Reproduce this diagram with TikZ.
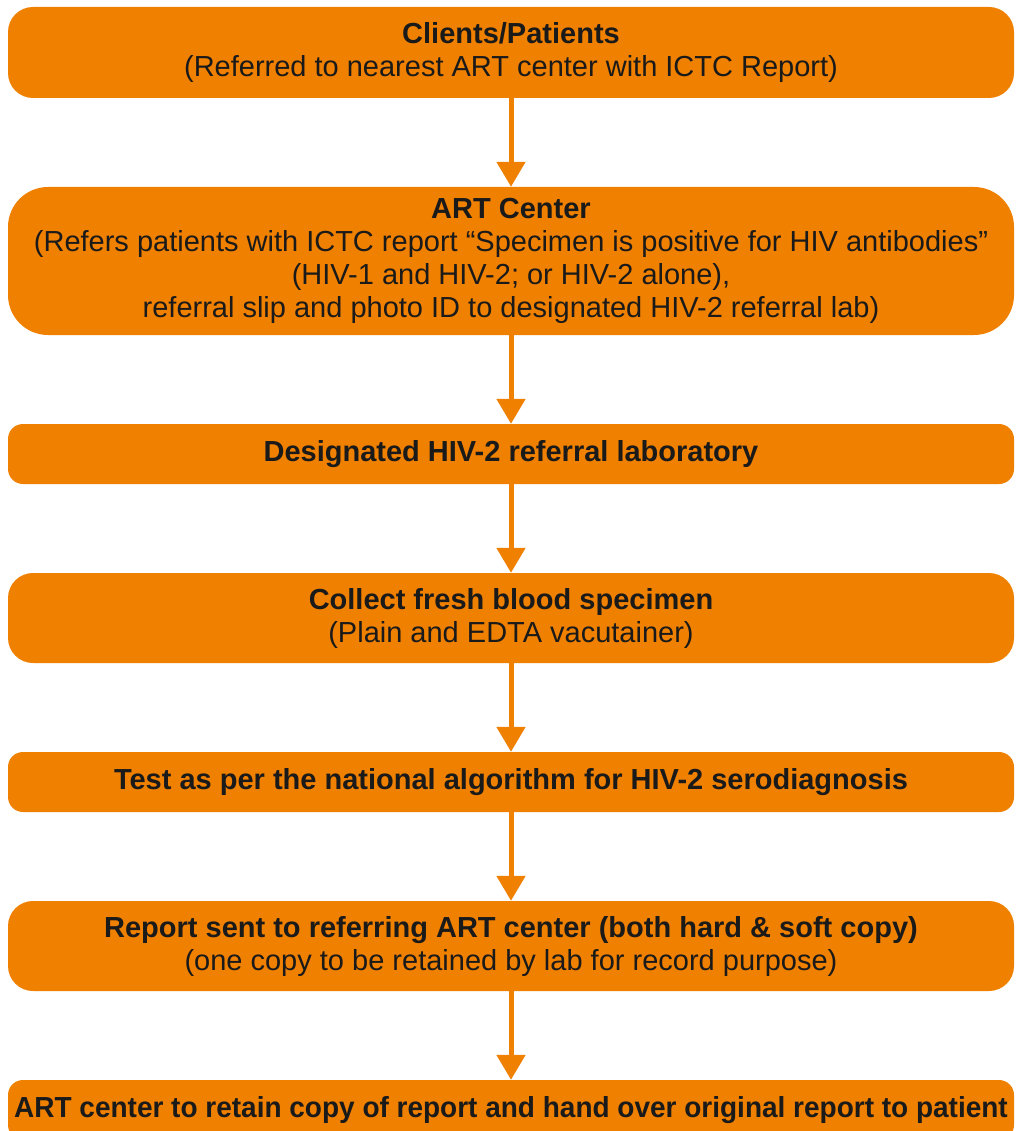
\documentclass[tikz,border=0pt]{standalone}
\usepackage{fontspec}
\setmainfont{Liberation Sans}
\usetikzlibrary{arrows.meta}
\definecolor{boxorange}{RGB}{240,128,0}
\definecolor{txt}{RGB}{26,26,26}
\begin{document}
\begin{tikzpicture}[x=1pt,y=-1pt,
  flowbox/.style={fill=boxorange, draw=none, minimum width=1006pt, inner sep=0pt,
    align=center, text=txt, font=\fontsize{29}{33}\selectfont},
  flowarrow/.style={draw=boxorange, line width=5pt, -{Triangle[width=28pt,length=25pt]}}]
\useasboundingbox (0,0) rectangle (1016,1131);
\begin{scope}
\clip (0,0) rectangle (1016,1131);
\node[flowbox, minimum height=91pt, rounded corners=25pt] (b1) at (511,52.5)
  {\textbf{Clients/Patients}\\(Referred to nearest ART center with ICTC Report)};
\node[flowbox, minimum height=148pt, rounded corners=40pt] (b2) at (511,261)
  {\textbf{ART Center}\\(Refers patients with ICTC report “Specimen is positive for HIV antibodies”\\(HIV-1 and HIV-2; or HIV-2 alone),\\referral slip and photo ID to designated HIV-2 referral lab)};
\node[flowbox, minimum height=60pt, rounded corners=15pt] (b3) at (511,454)
  {\textbf{Designated HIV-2 referral laboratory}};
\node[flowbox, minimum height=90pt, rounded corners=25pt] (b4) at (511,618)
  {\textbf{Collect fresh blood specimen}\\(Plain and EDTA vacutainer)};
\node[flowbox, minimum height=60pt, rounded corners=15pt] (b5) at (511,782)
  {\textbf{Test as per the national algorithm for HIV-2 serodiagnosis}};
\node[flowbox, minimum height=90pt, rounded corners=25pt] (b6) at (511,946)
  {\textbf{Report sent to referring ART center (both hard \& soft copy)}\\(one copy to be retained by lab for record purpose)};
\node[flowbox, minimum height=60pt, rounded corners=15pt] (b7) at (511,1110)
  {\scalebox{0.965}[1]{\textbf{ART center to retain copy of report and hand over original report to patient}}};
\end{scope}
\draw[flowarrow] (b1.south) -- (b2.north);
\draw[flowarrow] (b2.south) -- (b3.north);
\draw[flowarrow] (b3.south) -- (b4.north);
\draw[flowarrow] (b4.south) -- (b5.north);
\draw[flowarrow] (b5.south) -- (b6.north);
\draw[flowarrow] (b6.south) -- (b7.north);
\end{tikzpicture}
\end{document}
